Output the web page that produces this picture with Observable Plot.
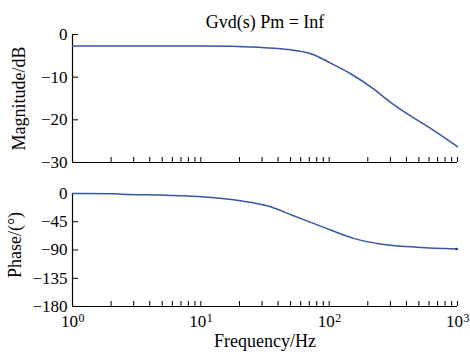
<!DOCTYPE html>
<html>
<head>
<meta charset="utf-8">
<script src="https://cdn.jsdelivr.net/npm/d3@7"></script>
<script src="https://cdn.jsdelivr.net/npm/@observablehq/plot@0.6"></script>
<style>
  body { margin: 0; background: #fff; }
  #chart { position: relative; width: 470px; height: 352px; font-family: "Liberation Serif", "Times New Roman", serif; }
  #chart svg { position: absolute; left: 0; }
</style>
</head>
<body>
<div id="chart"></div>
<script>
const titleText = "Gvd(s) Pm = Inf";
const xLabel = "Frequency/Hz";
const magLabel = "Magnitude/dB";
const phaseLabel = "Phase/(°)";

const magFreq = [1, 2, 5, 10, 17, 25, 37, 50, 72, 102.6, 147, 223, 301, 431, 617, 1000];
const magDb   = [-2.7, -2.7, -2.7, -2.7, -2.75, -2.95, -3.25, -3.6, -4.5, -6.7, -9.2, -12.8, -15.9, -19.1, -22.0, -26.3];

const phaseFreq = [1, 2.2, 2.7, 4.85, 7, 10, 20.3, 32.9, 52.8, 90.8, 155, 250, 486, 1000];
const phaseDeg  = [0, -0.5, -1.6, -2.2, -3.7, -5.2, -11.6, -19.5, -35.4, -54, -71.5, -80.4, -85.7, -88.5];

const magTicks = [0, -10, -20, -30];
const phaseTicks = [0, -45, -90, -135, -180];
const decades = [1, 10, 100, 1000];
const exponents = ["0", "1", "2", "3"];

const minorTicks = [];
for (let d = 1; d < 1000; d *= 10) for (let k = 2; k <= 10; k++) minorTicks.push(d * k);

const color = "#3b55a6";
const W = 470, ML = 72, MR = 13;
const fmt = d => d < 0 ? "\u2212" + (-d) : String(d);

const magData = magFreq.map((f, i) => ({f, v: magDb[i]}));
const phaseData = phaseFreq.map((f, i) => ({f, v: phaseDeg[i]}));

function panel({data, yDomain, yTicks, height, mt, mb, extra, ylabel, ylabelDx, ylabelDy}) {
  const ph = height - mt - mb;
  const pw = W - ML - MR;
  return Plot.plot({
    width: W, height,
    marginLeft: ML, marginRight: MR, marginTop: mt, marginBottom: mb,
    style: {fontFamily: "Liberation Serif, Times New Roman, serif", fontSize: "17px", color: "#000", background: "transparent", overflow: "visible"},
    x: {type: "log", domain: [1, 1000], axis: null},
    y: {domain: yDomain, axis: null},
    marks: [
      Plot.ruleX([1], {stroke: "#000", strokeWidth: 1.2}),
      Plot.ruleY([yDomain[0]], {stroke: "#000", strokeWidth: 1.2}),
      Plot.tickX(minorTicks, {x: d => d, insetTop: ph - 5, stroke: "#000", strokeWidth: 1}),
      Plot.tickY(yTicks, {y: d => d, insetRight: pw - 6, stroke: "#000", strokeWidth: 1}),
      Plot.text(yTicks, {y: d => d, frameAnchor: "left", dx: -5, textAnchor: "end", text: fmt, fontSize: 17}),
      Plot.text([ylabel], {frameAnchor: "left", textAnchor: "middle", dx: ylabelDx, dy: ylabelDy, rotate: -90, text: d => d, fontSize: 18}),
      Plot.line(data, {x: "f", y: "v", stroke: color, strokeWidth: 1.5, curve: "monotone-x"}),
      ...extra(ph)
    ]
  });
}

const topPanel = panel({
  data: magData, yDomain: [-30, 0], yTicks: magTicks,
  height: 176, mt: 34, mb: 14, ylabel: magLabel, ylabelDx: -53, ylabelDy: 0,
  extra: () => [
    Plot.text([titleText], {frameAnchor: "top", dy: -7, lineAnchor: "bottom", text: d => d, fontSize: 18})
  ]
});
topPanel.style.top = "0px";

const bottomPanel = panel({
  data: phaseData, yDomain: [-180, 0], yTicks: phaseTicks,
  height: 176, mt: 17, mb: 46, ylabel: phaseLabel, ylabelDx: -57, ylabelDy: -5,
  extra: () => [
    Plot.dot(phaseData.slice(-1), {x: "f", y: "v", r: 1.3, fill: "#26325e", dx: -1}),
    Plot.text(decades, {x: d => d, frameAnchor: "bottom", dy: 20.5, dx: 5.5, lineAnchor: "bottom", textAnchor: "end", text: () => "10", fontSize: 17}),
    Plot.text(decades, {x: d => d, frameAnchor: "bottom", dy: 15.5, dx: 6, lineAnchor: "bottom", textAnchor: "start", text: (d, i) => exponents[i], fontSize: 12}),
    Plot.text([xLabel], {frameAnchor: "bottom", dy: 40.5, lineAnchor: "bottom", text: d => d, fontSize: 18})
  ]
});
bottomPanel.style.top = "176px";

const chart = document.getElementById("chart");
chart.appendChild(topPanel);
chart.appendChild(bottomPanel);
</script>
</body>
</html>
